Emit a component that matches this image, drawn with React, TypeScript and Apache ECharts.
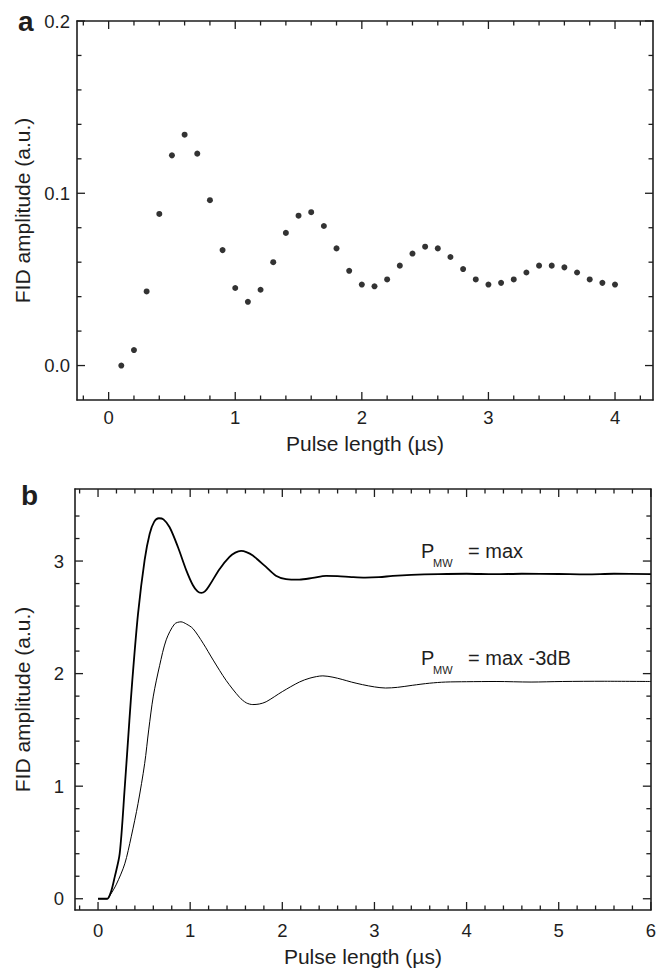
import React, { useEffect, useRef } from "react";
import * as echarts from "echarts";

// Panel a: FID amplitude vs pulse length (points)
const pulseA = [0.1, 0.2, 0.3, 0.4, 0.5, 0.6, 0.7, 0.8, 0.9, 1.0, 1.1, 1.2, 1.3, 1.4, 1.5, 1.6, 1.7, 1.8, 1.9, 2.0, 2.1, 2.2, 2.3, 2.4, 2.5, 2.6, 2.7, 2.8, 2.9, 3.0, 3.1, 3.2, 3.3, 3.4, 3.5, 3.6, 3.7, 3.8, 3.9, 4.0];
const fidA = [0.0, 0.009, 0.043, 0.088, 0.122, 0.134, 0.123, 0.096, 0.067, 0.045, 0.037, 0.044, 0.060, 0.077, 0.087, 0.089, 0.081, 0.068, 0.055, 0.047, 0.046, 0.050, 0.058, 0.065, 0.069, 0.068, 0.063, 0.056, 0.050, 0.047, 0.048, 0.050, 0.054, 0.058, 0.058, 0.057, 0.054, 0.050, 0.048, 0.047];

// Panel b: P_MW = max (thick trace)
const pulseMax = [0, 0.05, 0.1, 0.14, 0.18, 0.235, 0.29, 0.34, 0.372, 0.434, 0.506, 0.56, 0.61, 0.66, 0.71, 0.777, 0.867, 0.957, 1.03, 1.08, 1.12, 1.16, 1.21, 1.32, 1.427, 1.49, 1.553, 1.61, 1.68, 1.75, 1.82, 1.93, 2.04, 2.185, 2.33, 2.475, 2.6, 2.75, 2.9, 3.05, 3.2, 3.4, 3.7, 4.0, 4.3, 4.6, 5.0, 5.3, 5.6, 6.0];
const fidMax = [0, 0, 0, 0.06, 0.19, 0.40, 0.99, 1.58, 1.94, 2.53, 3.01, 3.24, 3.35, 3.38, 3.37, 3.30, 3.125, 2.92, 2.785, 2.73, 2.717, 2.73, 2.785, 2.93, 3.036, 3.075, 3.09, 3.08, 3.05, 3.0, 2.95, 2.87, 2.84, 2.835, 2.85, 2.868, 2.866, 2.858, 2.853, 2.857, 2.868, 2.877, 2.884, 2.887, 2.883, 2.887, 2.885, 2.882, 2.887, 2.884];

// Panel b: P_MW = max -3dB (thin trace)
const pulseM3 = [0, 0.05, 0.1, 0.13, 0.2, 0.29, 0.36, 0.434, 0.506, 0.55, 0.6, 0.668, 0.74, 0.83, 0.9, 0.96, 1.03, 1.14, 1.25, 1.39, 1.535, 1.61, 1.68, 1.75, 1.825, 2.0, 2.185, 2.3, 2.44, 2.55, 2.65, 2.75, 2.87, 3.0, 3.12, 3.25, 3.41, 3.6, 3.77, 4.0, 4.32, 4.7, 5.04, 5.5, 6.0];
const fidM3 = [0, 0, 0, 0.03, 0.13, 0.31, 0.55, 0.845, 1.2, 1.5, 1.8, 2.07, 2.30, 2.44, 2.46, 2.44, 2.40, 2.27, 2.12, 1.94, 1.79, 1.74, 1.725, 1.73, 1.75, 1.84, 1.925, 1.96, 1.98, 1.968, 1.948, 1.925, 1.902, 1.882, 1.872, 1.878, 1.896, 1.915, 1.925, 1.928, 1.93, 1.925, 1.93, 1.932, 1.93];

// Tick positions (major = labelled, minor = small ticks)
const aXMajor = [0, 1, 2, 3, 4];
const aXMinor = [-0.2, 0.2, 0.4, 0.6, 0.8, 1.2, 1.4, 1.6, 1.8, 2.2, 2.4, 2.6, 2.8, 3.2, 3.4, 3.6, 3.8, 4.2];
const aYMajor = [0, 0.1, 0.2];
const aYMinor = [0.02, 0.04, 0.06, 0.08, 0.12, 0.14, 0.16, 0.18];
const bXMajor = [0, 1, 2, 3, 4, 5, 6];
const bXMinor = [-0.2, 0.2, 0.4, 0.6, 0.8, 1.2, 1.4, 1.6, 1.8, 2.2, 2.4, 2.6, 2.8, 3.2, 3.4, 3.6, 3.8, 4.2, 4.4, 4.6, 4.8, 5.2, 5.4, 5.6, 5.8];
const bYMajor = [0, 1, 2, 3];
const bYMinor = [0.2, 0.4, 0.6, 0.8, 1.2, 1.4, 1.6, 1.8, 2.2, 2.4, 2.6, 2.8, 3.2, 3.4];

const FONT = "Liberation Sans, Arial, Helvetica, sans-serif";
const INK = "#1e1e1e";

const A_RANGE = { xMin: -0.25, xMax: 4.3, yMin: -0.02, yMax: 0.2 };
const B_RANGE = { xMin: -0.25, xMax: 6, yMin: -0.1, yMax: 3.64 };
const A_GRID = { left: 77, top: 21, width: 576, height: 379 };
const B_GRID = { left: 75, top: 489, width: 577, height: 421 };

function mainAxes(gridIndex: number, min: number, max: number, major: number[], pos: [string, string], label: any, name: string, nameGap: number) {
  const base = {
    type: "value",
    gridIndex,
    min,
    max,
    splitLine: { show: false },
    axisTick: { show: false },
    axisLine: { show: true, onZero: false, lineStyle: { color: INK, width: 1.6 } },
  };
  return [
    {
      ...base,
      position: pos[0],
      axisLabel: { show: true, customValues: major, color: INK, fontFamily: FONT, fontSize: 18.5, ...label },
      name,
      nameLocation: "middle",
      nameGap,
      nameTextStyle: { color: INK, fontFamily: FONT, fontSize: 21 },
    },
    { ...base, position: pos[1], axisLabel: { show: false } },
  ];
}

// Ticks as thin rectangular scatter symbols, placed through the axes' scales.
// Each tick's anchor sits half a tick-length inside the frame.
function tickScatter(xIdx: number, yIdx: number, pts: number[][], size: number[]) {
  return {
    type: "scatter",
    xAxisIndex: xIdx,
    yAxisIndex: yIdx,
    symbol: "rect",
    symbolSize: size,
    silent: true,
    clip: false,
    z: 4,
    itemStyle: { color: INK, opacity: 1 },
    data: pts,
  };
}

function panelTicks(xIdx: number, yIdx: number, g: typeof A_GRID, r: typeof A_RANGE, xMaj: number[], xMin: number[], yMaj: number[], yMin: number[]) {
  const du = (r.xMax - r.xMin) / g.width; // data units per px (x)
  const dv = (r.yMax - r.yMin) / g.height; // data units per px (y)
  const W = 1.3;
  const out: any[] = [];
  const xSets: [number[], number][] = [[xMaj, 8], [xMin, 4.5]];
  const ySets: [number[], number][] = [[yMaj, 8], [yMin, 4.5]];
  xSets.forEach(([vals, len]) => {
    const h = (len / 2) * dv;
    out.push(tickScatter(xIdx, yIdx, vals.map((v) => [v, r.yMin + h]), [W, len]));
    out.push(tickScatter(xIdx, yIdx, vals.map((v) => [v, r.yMax - h]), [W, len]));
  });
  ySets.forEach(([vals, len]) => {
    const h = (len / 2) * du;
    out.push(tickScatter(xIdx, yIdx, vals.map((v) => [r.xMin + h, v]), [len, W]));
    out.push(tickScatter(xIdx, yIdx, vals.map((v) => [r.xMax - h, v]), [len, W]));
  });
  return out;
}

export default function App() {
  const ref = useRef<HTMLDivElement>(null);
  useEffect(() => {
    if (!ref.current) return;
    const chart = echarts.init(ref.current, undefined, { renderer: "svg" });

    const xAxes: any[] = [
      ...mainAxes(0, A_RANGE.xMin, A_RANGE.xMax, aXMajor, ["bottom", "top"], { margin: 8, formatter: (v: number) => String(v) }, "Pulse length (µs)", 33),
      ...mainAxes(1, B_RANGE.xMin, B_RANGE.xMax, bXMajor, ["bottom", "top"], { margin: 11, formatter: (v: number) => String(v) }, "Pulse length (µs)", 36),
    ];
    const yAxes: any[] = [
      ...mainAxes(0, A_RANGE.yMin, A_RANGE.yMax, aYMajor, ["left", "right"], { margin: 7, formatter: (v: number) => v.toFixed(1) }, "FID amplitude (a.u.)", 44),
      ...mainAxes(1, B_RANGE.yMin, B_RANGE.yMax, bYMajor, ["left", "right"], { margin: 11, formatter: (v: number) => String(v) }, "FID amplitude (a.u.)", 42),
    ];

    chart.setOption({
      animation: false,
      grid: [{ ...A_GRID }, { ...B_GRID }],
      xAxis: xAxes,
      yAxis: yAxes,
      series: [
        ...panelTicks(0, 0, A_GRID, A_RANGE, aXMajor, aXMinor, aYMajor, aYMinor),
        ...panelTicks(2, 2, B_GRID, B_RANGE, bXMajor, bXMinor, bYMajor, bYMinor),
        {
          type: "scatter",
          xAxisIndex: 0,
          yAxisIndex: 0,
          symbol: "circle",
          symbolSize: 6,
          itemStyle: { color: "#000" },
          data: pulseA.map((x, i) => [x, fidA[i]]),
        },
        {
          type: "line",
          xAxisIndex: 2,
          yAxisIndex: 2,
          showSymbol: false,
          smooth: 0.3,
          lineStyle: { color: "#000", width: 1.8 },
          data: pulseMax.map((x, i) => [x, fidMax[i]]),
        },
        {
          type: "line",
          xAxisIndex: 2,
          yAxisIndex: 2,
          showSymbol: false,
          smooth: 0.3,
          lineStyle: { color: "#000", width: 1 },
          data: pulseM3.map((x, i) => [x, fidM3[i]]),
        },
      ],
    });

    const txt = (x: number, y: number, text: string, size: number, bold = false) => ({
      type: "text",
      x,
      y,
      style: { text, fill: INK, font: `${bold ? "bold " : ""}${size}px ${FONT}`, textAlign: "left", textVerticalAlign: "middle" },
    });
    chart.setOption({
      graphic: [
        txt(18, 21, "a", 28, true),
        txt(21, 495, "b", 28, true),
        txt(421, 551, "P", 20),
        txt(433, 563, "MW", 11),
        txt(468, 551, "= max", 20),
        txt(421, 658, "P", 20),
        txt(433, 670, "MW", 11),
        txt(468, 658, "= max -3dB", 20),
      ],
    });
    return () => chart.dispose();
  }, []);
  return <div ref={ref} style={{ position: "fixed", left: 0, top: 0, width: 659, height: 971, background: "#fff" }} />;
}
